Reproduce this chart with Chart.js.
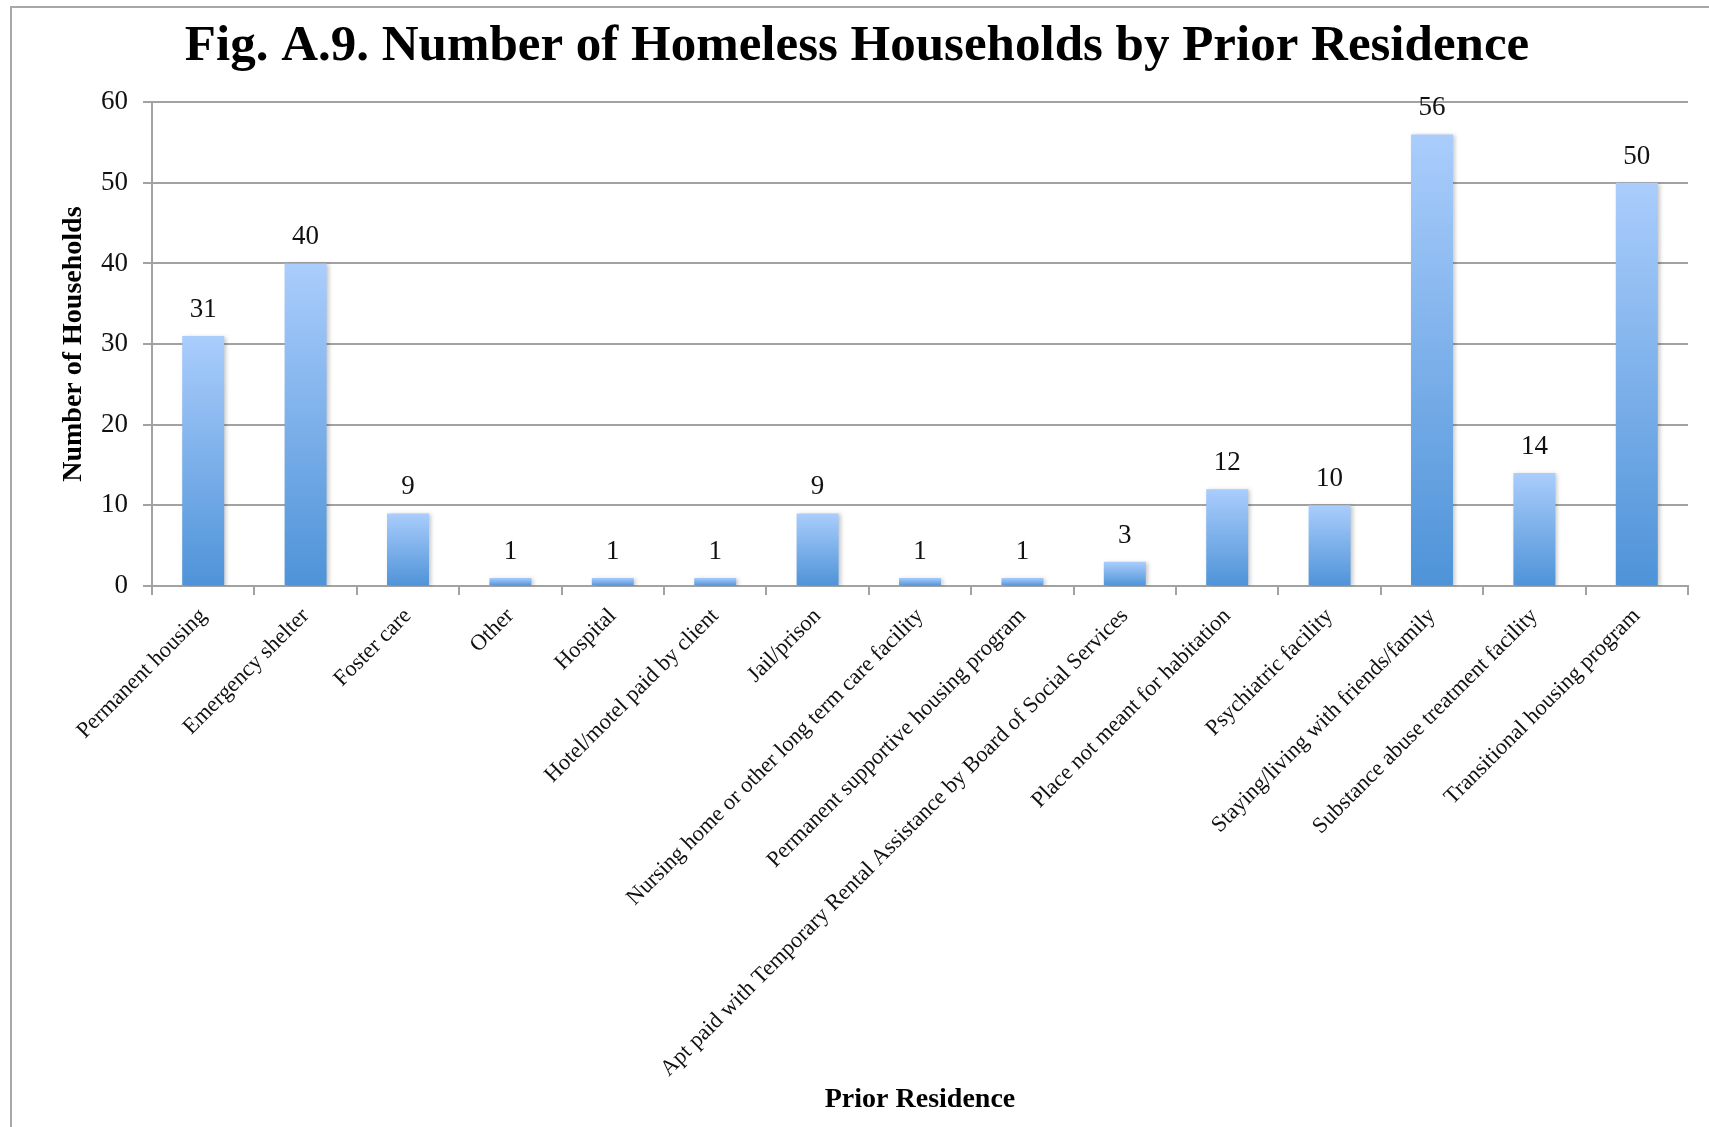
<!DOCTYPE html>
<html lang="en">
<head>
  <meta charset="UTF-8">
  <title>Homeless Households by Prior Residence</title>
  <script src="https://cdn.jsdelivr.net/npm/chart.js"></script>
  <style>
    body { margin: 0; background: #fff; }
  </style>
</head>
<body>
  <canvas id="myChart" width="1709" height="1127"></canvas>

  <script>
    // categories and counts
    var residences = [
      'Permanent housing',
      'Emergency shelter',
      'Foster care',
      'Other',
      'Hospital',
      'Hotel/motel paid by client',
      'Jail/prison',
      'Nursing home or other long term care facility',
      'Permanent supportive housing program',
      'Apt paid with Temporary Rental Assistance by Board of Social Services',
      'Place not meant for habitation',
      'Psychiatric facility',
      'Staying/living with friends/family',
      'Substance abuse treatment facility',
      'Transitional housing program'
    ];
    var households = [31, 40, 9, 1, 1, 1, 9, 1, 1, 3, 12, 10, 56, 14, 50];
    var yTicks = [0, 10, 20, 30, 40, 50, 60];

    var serif = "'Liberation Serif', 'DejaVu Serif', serif";
    var gridColor = '#a2a2a2';

    // white page with the grey frame at the top and left
    var framePlugin = {
      id: 'frame',
      beforeDraw: function (chart) {
        var c = chart.ctx;
        c.save();
        c.fillStyle = '#fff';
        c.fillRect(0, 0, chart.width, chart.height);
        c.strokeStyle = '#a8a8a8';
        c.lineWidth = 2;
        c.beginPath();
        c.moveTo(11, chart.height);
        c.lineTo(11, 7);
        c.lineTo(chart.width, 7);
        c.stroke();
        c.restore();
      }
    };

    // soft shadow behind the bars
    var shadowPlugin = {
      id: 'barShadow',
      beforeDatasetsDraw: function (chart) {
        var c = chart.ctx;
        c.save();
        c.shadowColor = 'rgba(0, 0, 0, 0.22)';
        c.shadowBlur = 4;
        c.shadowOffsetX = 2;
        c.shadowOffsetY = 1;
      },
      afterDatasetsDraw: function (chart) {
        chart.ctx.restore();
      }
    };

    // value written above each bar
    var valuePlugin = {
      id: 'values',
      afterDatasetsDraw: function (chart) {
        var c = chart.ctx;
        var meta = chart.getDatasetMeta(0);
        c.save();
        c.font = '27px ' + serif;
        c.fillStyle = '#111';
        c.textAlign = 'center';
        c.textBaseline = 'alphabetic';
        meta.data.forEach(function (bar, i) {
          c.fillText(String(households[i]), bar.x, bar.y - 19);
        });
        c.restore();
      }
    };

    function barGradient(context) {
      var chart = context.chart;
      if (!chart.chartArea || context.type !== 'data') return '#7aaee8';
      var y = chart.scales.y;
      var top = y.getPixelForValue(context.raw);
      var base = y.getPixelForValue(0);
      if (base - top < 1) top = base - 1;
      var g = chart.ctx.createLinearGradient(0, top, 0, base);
      g.addColorStop(0, '#aacdfc');
      g.addColorStop(1, '#4e93d8');
      return g;
    }

    var ctx = document.getElementById('myChart').getContext('2d');

    var data = {
      labels: residences,
      datasets: [{
        label: 'Number of Households',
        data: households,
        backgroundColor: barGradient,
        borderWidth: 0,
        categoryPercentage: 1,
        barPercentage: 0.41
      }]
    };

    var options = {
      responsive: false,
      animation: false,
      layout: {
        padding: { left: 26, right: 21, top: 0, bottom: 0 }
      },
      plugins: {
        legend: { display: false },
        tooltip: { enabled: false },
        title: {
          display: true,
          text: 'Fig. A.9. Number of Homeless Households by Prior Residence',
          color: '#000',
          font: { family: serif, size: 51, weight: 'bold' },
          padding: { top: 16, bottom: 25 }
        }
      },
      scales: {
        x: {
          grid: {
            display: true,
            drawOnChartArea: false,
            drawTicks: true,
            tickLength: 9,
            color: gridColor,
            lineWidth: 2
          },
          border: { color: gridColor, width: 2 },
          ticks: {
            color: '#111',
            font: { family: serif, size: 22.5 },
            minRotation: 45,
            maxRotation: 45,
            autoSkip: false,
            padding: 8
          },
          title: {
            display: true,
            text: 'Prior Residence',
            color: '#000',
            font: { family: serif, size: 28, weight: 'bold' },
            padding: { top: 0, bottom: 10 }
          },
          afterFit: function (scale) { scale.height = 1127 - 586; }
        },
        y: {
          min: yTicks[0],
          max: yTicks[yTicks.length - 1],
          afterBuildTicks: function (scale) {
            scale.ticks = yTicks.map(function (v) { return { value: v }; });
          },
          grid: {
            color: gridColor,
            lineWidth: 2,
            drawTicks: true,
            tickLength: 9
          },
          border: { color: gridColor, width: 2 },
          ticks: {
            color: '#111',
            font: { family: serif, size: 27 },
            padding: 15
          },
          title: {
            display: true,
            text: 'Number of Households',
            color: '#000',
            font: { family: serif, size: 28, weight: 'bold' },
            padding: { top: 31, bottom: 0 }
          },
          afterFit: function (scale) { scale.width = 152 - 26; }
        }
      }
    };

    var myChart = new Chart(ctx, {
      type: 'bar',
      data: data,
      options: options,
      plugins: [framePlugin, shadowPlugin, valuePlugin]
    });
  </script>
</body>
</html>
